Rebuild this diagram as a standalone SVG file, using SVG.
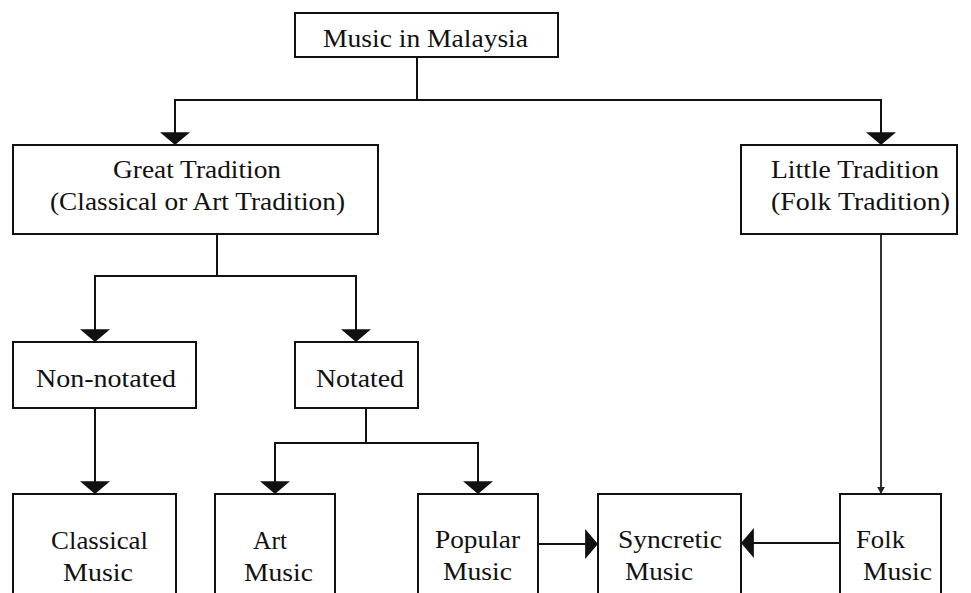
<svg xmlns="http://www.w3.org/2000/svg" width="971" height="593" viewBox="0 0 971 593">
<defs>
<style>
.box{fill:#fff;stroke:#111;stroke-width:2}
.ln{fill:none;stroke:#111;stroke-width:2}
.thin{fill:none;stroke:#333;stroke-width:2}
text{font-family:"Liberation Serif","Times New Roman",serif;font-size:26px;fill:#111}
</style>
<marker id="ah" markerUnits="userSpaceOnUse" markerWidth="30" markerHeight="30" viewBox="-14 -14 28 28" refX="0" refY="0" orient="auto-start-reverse">
<polygon points="0,0 -12,-14 -12,14" fill="#111"/>
</marker>
<marker id="ahs" markerUnits="userSpaceOnUse" markerWidth="14" markerHeight="14" viewBox="-7 -7 14 14" refX="0" refY="0" orient="auto">
<polygon points="0,0 -9,-5 -9,5" fill="#222"/>
</marker>
</defs>
<rect width="971" height="593" fill="#fff"/>
<g id="connectors">
<polyline class="ln" points="417,57 417,100"/>
<polyline class="ln" points="175,145 175,100 881,100 881,145" marker-start="url(#ah)" marker-end="url(#ah)"/>
<polyline class="ln" points="217,234 217,276"/>
<polyline class="ln" points="95,342 95,276 356,276 356,342" marker-start="url(#ah)" marker-end="url(#ah)"/>
<polyline class="ln" points="95,408 95,494" marker-end="url(#ah)"/>
<polyline class="ln" points="366,408 366,443"/>
<polyline class="ln" points="275,494 275,443 478,443 478,494" marker-start="url(#ah)" marker-end="url(#ah)"/>
<polyline class="thin" points="881,234 881,494" marker-end="url(#ahs)"/>
<polyline class="ln" points="538,544 598,544" marker-end="url(#ah)"/>
<polyline class="ln" points="840,543 741,543" marker-end="url(#ah)"/>
</g>
<g id="n-top"><rect class="box" x="295" y="13" width="263" height="44"/><text x="323" y="47" textLength="205" lengthAdjust="spacingAndGlyphs">Music in Malaysia</text></g>
<g id="n-great"><rect class="box" x="13" y="145" width="365" height="89"/><text x="113" y="178" textLength="168" lengthAdjust="spacingAndGlyphs">Great Tradition</text><text x="50" y="210" textLength="295" lengthAdjust="spacingAndGlyphs">(Classical or Art Tradition)</text></g>
<g id="n-little"><rect class="box" x="741" y="145" width="216" height="89"/><text x="771" y="178" textLength="168" lengthAdjust="spacingAndGlyphs">Little Tradition</text><text x="771" y="210" textLength="179" lengthAdjust="spacingAndGlyphs">(Folk Tradition)</text></g>
<g id="n-nonnotated"><rect class="box" x="13" y="342" width="183" height="66"/><text x="36" y="387" textLength="140" lengthAdjust="spacingAndGlyphs">Non-notated</text></g>
<g id="n-notated"><rect class="box" x="295" y="342" width="123" height="66"/><text x="316" y="387" textLength="88" lengthAdjust="spacingAndGlyphs">Notated</text></g>
<g id="n-classical"><rect class="box" x="13" y="494" width="163" height="110"/><text x="51" y="549" textLength="97" lengthAdjust="spacingAndGlyphs">Classical</text><text x="63" y="581" textLength="70" lengthAdjust="spacingAndGlyphs">Music</text></g>
<g id="n-art"><rect class="box" x="215" y="494" width="120" height="110"/><text x="253" y="549" textLength="34" lengthAdjust="spacingAndGlyphs">Art</text><text x="244" y="581" textLength="69" lengthAdjust="spacingAndGlyphs">Music</text></g>
<g id="n-popular"><rect class="box" x="418" y="494" width="120" height="110"/><text x="435" y="548" textLength="85" lengthAdjust="spacingAndGlyphs">Popular</text><text x="443" y="580" textLength="69" lengthAdjust="spacingAndGlyphs">Music</text></g>
<g id="n-syncretic"><rect class="box" x="598" y="494" width="143" height="110"/><text x="618" y="548" textLength="104" lengthAdjust="spacingAndGlyphs">Syncretic</text><text x="625" y="580" textLength="68" lengthAdjust="spacingAndGlyphs">Music</text></g>
<g id="n-folk"><rect class="box" x="840" y="494" width="101" height="110"/><text x="856" y="548" textLength="49" lengthAdjust="spacingAndGlyphs">Folk</text><text x="863" y="580" textLength="69" lengthAdjust="spacingAndGlyphs">Music</text></g>
</svg>
